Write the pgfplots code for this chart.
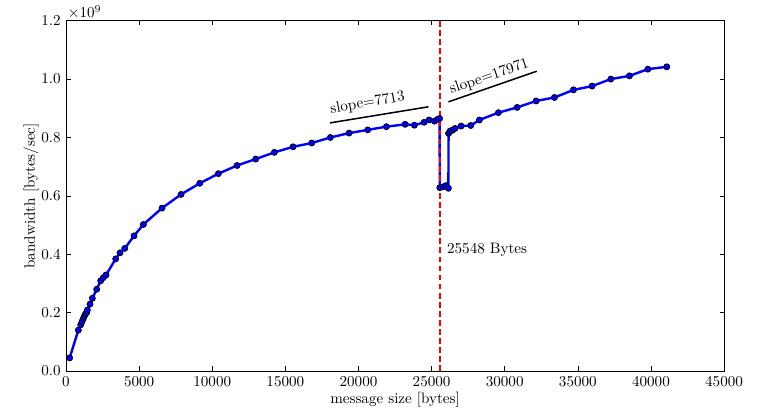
\documentclass[border=0pt]{standalone}
\usepackage{pgfplots}
\pgfplotsset{compat=1.18}
\definecolor{pyred}{RGB}{255,0,0}
\definecolor{pyblue}{RGB}{0,0,255}
\begin{document}
\begin{tikzpicture}
\useasboundingbox (-43.7pt,-25.2pt) rectangle (457.4pt,245.6pt);
\begin{axis}[
  scale only axis, width=435.6pt, height=231.9pt,
  xmin=0, xmax=45000, ymin=0, ymax=1.2e9,
  xtick={0,5000,10000,15000,20000,25000,30000,35000,40000,45000},
  ytick={0,200000000,400000000,600000000,800000000,1000000000,1200000000},
  scaled x ticks=false,
  xticklabel style={/pgf/number format/1000 sep={}},
  scaled y ticks=base 10:-9,
  yticklabel style={/pgf/number format/fixed, /pgf/number format/fixed zerofill, /pgf/number format/precision=1},
  ytick scale label code/.code={$\times 10^{9}$},
  every y tick scale label/.style={at={(rel axis cs:0,1)}, anchor=south west, inner sep=1pt},
  tick style={black, thin},
  major tick length=3pt,
  xlabel={message size [bytes]},
  ylabel={bandwidth [bytes/sec]},
  every axis x label/.append style={yshift=3pt},
  every axis y label/.append style={yshift=-5pt},
  axis line style={black, line width=0.6pt},
  clip=false,
]
\addplot[pyblue, line width=1.6pt, mark=*, mark size=2pt,
  mark options={fill=pyblue, draw=black, line width=0.5pt}] coordinates {
(250,0.045e9) (843,0.140e9) (1003,0.158e9) (1094,0.169e9) (1185,0.180e9)
(1254,0.188e9) (1322,0.195e9) (1413,0.200e9) (1459,0.209e9) (1641,0.229e9)
(1801,0.249e9) (2097,0.280e9) (2371,0.309e9) (2554,0.320e9) (2736,0.329e9)
(3397,0.384e9) (3694,0.405e9) (4015,0.420e9) (4651,0.463e9) (5290,0.502e9)
(6566,0.558e9) (7866,0.605e9) (9145,0.643e9) (10420,0.676e9) (11696,0.704e9)
(12971,0.726e9) (14248,0.749e9) (15527,0.768e9) (16803,0.781e9) (18079,0.800e9)
(19357,0.815e9) (20633,0.826e9) (21908,0.837e9) (23187,0.845e9) (23823,0.842e9)
(24487,0.852e9) (24829,0.860e9) (25191,0.856e9) (25396,0.862e9) (25548,0.865e9)
(25560,0.628e9) (25807,0.631e9) (25972,0.635e9) (26150,0.626e9)
(26160,0.814e9) (26265,0.822e9) (26422,0.825e9) (26607,0.831e9) (27017,0.839e9)
(27680,0.841e9) (28270,0.860e9) (29570,0.885e9) (30850,0.903e9) (32147,0.925e9)
(33400,0.937e9) (34700,0.963e9) (35978,0.976e9) (37254,1.000e9) (38530,1.011e9)
(39787,1.034e9) (41085,1.042e9)
};
\addplot[black, line width=1pt, no marks] coordinates {(18057,0.850e9) (24781,0.905e9)};
\addplot[black, line width=1pt, no marks] coordinates {(26149,0.922e9) (32195,1.027e9)};
\draw[color=pyred, line width=1.25pt, dash pattern=on 3.8pt off 2.2pt] (axis cs:25548,0) -- (axis cs:25548,1200000000);
\node[rotate=10] at (axis cs:20622,0.917e9) {slope=7713};
\node[rotate=19] at (axis cs:28946,1.008e9) {slope=17971};
\node[anchor=west, inner sep=0pt] at (axis cs:26040,0.414e9) {25548 Bytes};
\end{axis}
\end{tikzpicture}
\end{document}
